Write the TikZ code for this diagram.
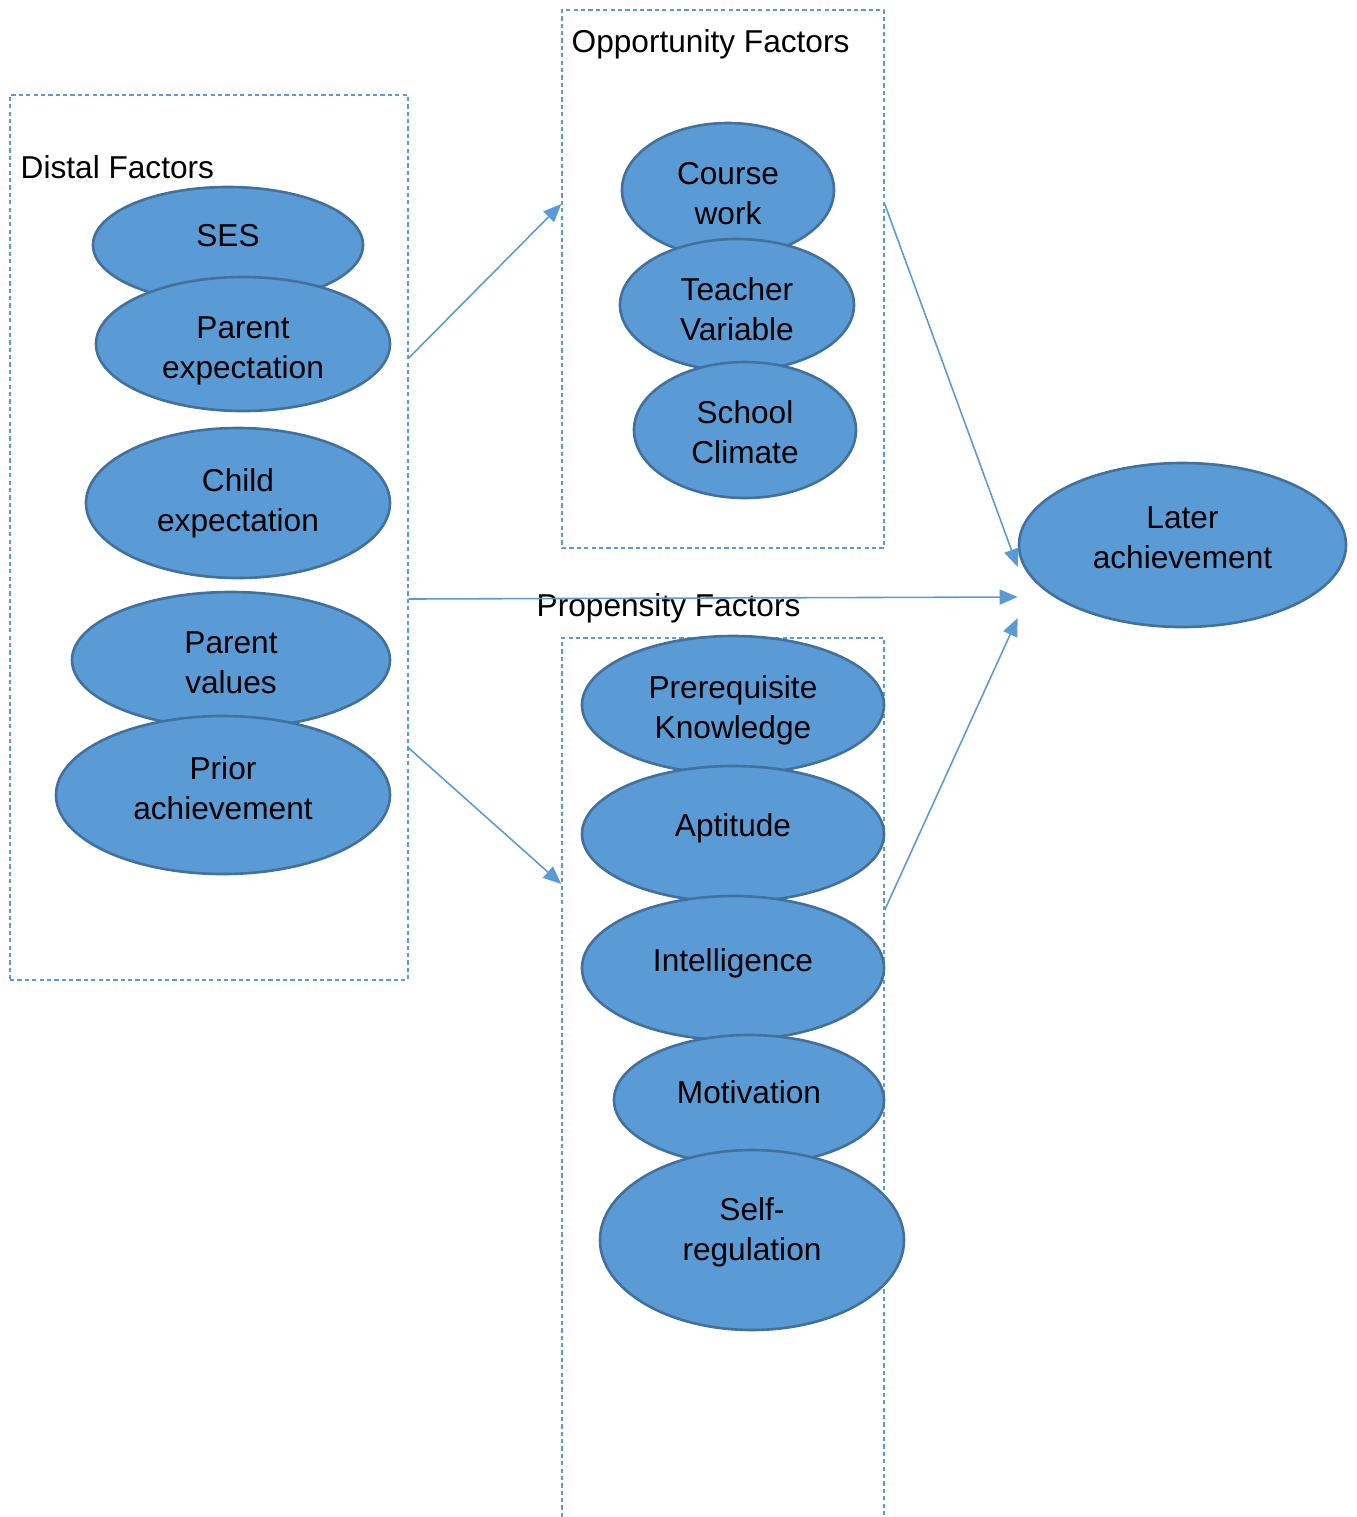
\documentclass[tikz,border=0pt]{standalone}
\usepackage{fontspec}
\setmainfont{Liberation Sans}
\usetikzlibrary{positioning}
\usetikzlibrary{arrows.meta}
\usetikzlibrary{shapes.geometric}

\definecolor{bubfill}{HTML}{5B9BD5}
\definecolor{bubline}{HTML}{41719C}
\definecolor{grpline}{HTML}{5B9BD5}

\tikzset{
  bub/.style={ellipse,draw=bubline,line width=0.75pt,fill=bubfill,inner sep=0pt},
  bubtext/.style={align=center,inner sep=0pt,font=\fontsize{9}{11.4}\selectfont},
  grp/.style={rectangle,draw=grpline,line width=0.4pt,dash pattern=on 1.2pt off 0.9pt,inner sep=0pt},
  grptitle/.style={anchor=west,inner sep=0pt,font=\fontsize{9}{11.4}\selectfont},
  link/.style={draw=grpline,line width=0.45pt,-{Triangle[length=0.18cm,width=0.15cm]}}
}

\begin{document}
\begin{tikzpicture}
 \useasboundingbox (0,0) rectangle (13.57,-15.17);
 % groups
 \node[grp,minimum width=3.98cm,minimum height=8.85cm] (distal) at (2.09,-5.375) {};
 \node[grp,minimum width=3.22cm,minimum height=5.38cm] (opport) at (7.23,-2.79) {};
 \node[grp,minimum width=3.22cm,minimum height=9.02cm] (propen) at (7.23,-10.89) {};
 % distal factors
 \node[bub,minimum width=2.70cm,minimum height=1.16cm,label={[bubtext,yshift=0.09cm]center:SES}] (ses) at (2.28,-2.45) {};
 \node[bub,minimum width=2.94cm,minimum height=1.34cm,label={[bubtext,yshift=-0.07cm]center:{Parent\\expectation}}] (parexp) at (2.43,-3.44) {};
 \node[bub,minimum width=3.04cm,minimum height=1.50cm,label={[bubtext]center:{Child\\expectation}}] (chexp) at (2.38,-5.03) {};
 \node[bub,minimum width=3.18cm,minimum height=1.36cm,label={[bubtext,yshift=-0.03cm]center:{Parent\\values}}] (parval) at (2.31,-6.60) {};
 \node[bub,minimum width=3.34cm,minimum height=1.58cm,label={[bubtext,yshift=0.065cm]center:{Prior\\achievement}}] (prior) at (2.23,-7.95) {};
 % opportunity factors
 \node[bub,minimum width=2.12cm,minimum height=1.34cm,label={[bubtext,yshift=-0.04cm]center:{Course\\work}}] (course) at (7.28,-1.90) {};
 \node[bub,minimum width=2.34cm,minimum height=1.32cm,label={[bubtext,yshift=-0.04cm]center:{Teacher\\Variable}}] (teacher) at (7.37,-3.05) {};
 \node[bub,minimum width=2.22cm,minimum height=1.36cm,label={[bubtext,yshift=-0.02cm]center:{School\\Climate}}] (climate) at (7.45,-4.30) {};
 % propensity factors
 \node[bub,minimum width=3.02cm,minimum height=1.38cm,label={[bubtext,yshift=-0.05cm]center:{Prerequisite\\Knowledge}}] (prereq) at (7.33,-7.05) {};
 \node[bub,minimum width=3.02cm,minimum height=1.36cm,label={[bubtext,yshift=0.06cm]center:Aptitude}] (aptitude) at (7.33,-8.34) {};
 \node[bub,minimum width=3.02cm,minimum height=1.44cm,label={[bubtext,yshift=0.05cm]center:Intelligence}] (intel) at (7.33,-9.68) {};
 \node[bub,minimum width=2.70cm,minimum height=1.30cm,label={[bubtext,yshift=0.08cm]center:Motivation}] (motiv) at (7.49,-11.00) {};
 \node[bub,minimum width=3.04cm,minimum height=1.80cm,label={[bubtext,yshift=0.08cm]center:{Self-\\regulation}}] (selfreg) at (7.52,-12.40) {};
 % outcome
 \node[bub,minimum width=3.27cm,minimum height=1.64cm,label={[bubtext,yshift=0.07cm]center:{Later\\achievement}}] (later) at (11.825,-5.45) {};
 % titles
 \node[grptitle] (distaltitle) at (0.20,-1.67) {Distal Factors};
 \node[grptitle] (opporttitle) at (5.71,-0.44) {Opportunity Factors};
 \node[grptitle] (propentitle) at (5.36,-6.08) {Propensity Factors};
 % links
 \draw[link] ([yshift=1.795cm]distal.east) -- ([yshift=0.75cm]opport.west);
 \draw[link] ([yshift=-0.615cm]distal.east) -- ([yshift=-0.52cm]later.west);
 \draw[link] ([yshift=-2.105cm]distal.east) -- ([yshift=2.05cm]propen.west);
 \draw[link] ([yshift=0.75cm]opport.east) -- ([yshift=-0.22cm]later.west);
 \draw[link] ([yshift=1.79cm]propen.east) -- ([yshift=-0.73cm]later.west);
\end{tikzpicture}
\end{document}
